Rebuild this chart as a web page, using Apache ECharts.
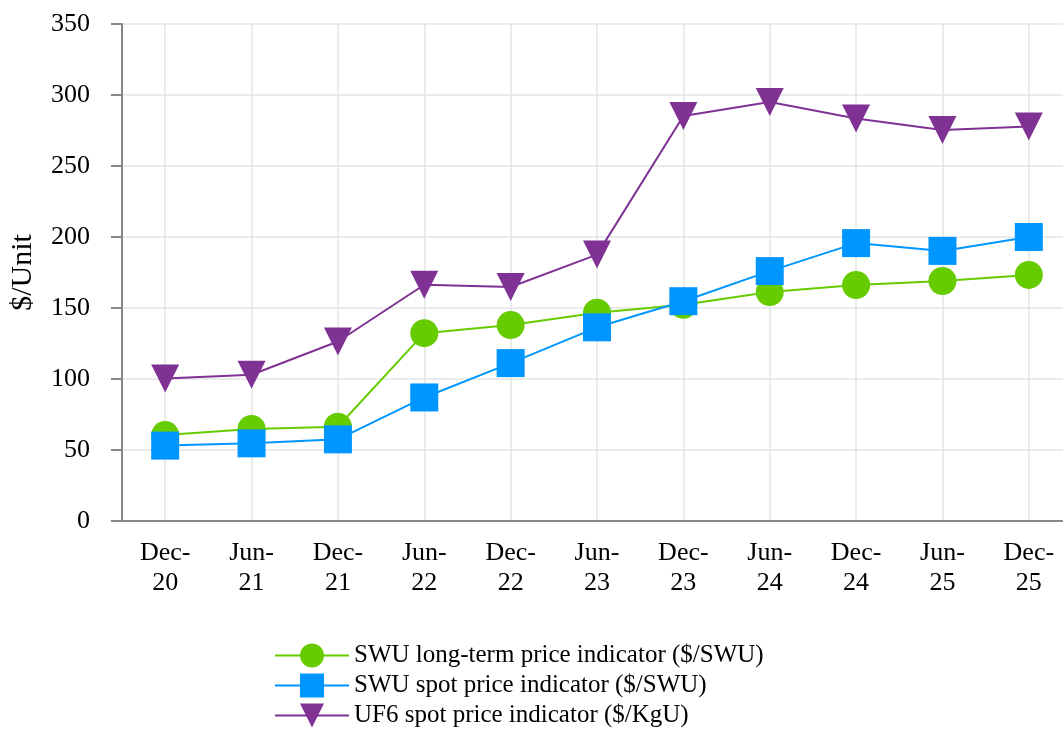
<!DOCTYPE html>
<html>
<head>
<meta charset="utf-8">
<title>SWU / UF6 price indicators</title>
<script src="https://cdn.jsdelivr.net/npm/echarts@6/dist/echarts.min.js"></script>
<style>
  html, body { margin: 0; padding: 0; background: #fff; }
  #chart { width: 1063px; height: 729px; }
</style>
</head>
<body>
<div id="chart"></div>
<script>
// 数据
const categories = ['Dec-\n20', 'Jun-\n21', 'Dec-\n21', 'Jun-\n22', 'Dec-\n22', 'Jun-\n23',
                    'Dec-\n23', 'Jun-\n24', 'Dec-\n24', 'Jun-\n25', 'Dec-\n25'];
const swuLongTerm = [60.5, 64.8, 66.4, 132.3, 138, 146.7, 152.3, 161.2, 166.2, 169, 173.3];
const swuSpot = [53.1, 54.7, 57.5, 87, 111.2, 136.4, 154.8, 176, 195.7, 190.2, 200];
const uf6Spot = [100.4, 103, 126.4, 166.4, 164.8, 187.6, 285.2, 295.1, 283.4, 275.4, 277.8];
const seriesNames = [
    'SWU long-term price indicator ($/SWU)',
    'SWU spot price indicator ($/SWU)',
    'UF6 spot price indicator ($/KgU)'
];

const font = "'Liberation Serif', 'Times New Roman', serif";
const axisColor = '#878787';
const gridColor = '#e5e5e5';

// 生成折线配置
const makeLine = (name, data, color, symbol, rotate) => ({
    name,
    type: 'line',
    data,
    symbol,
    symbolSize: 28,
    symbolRotate: rotate || 0,
    showAllSymbol: true,
    lineStyle: { color, width: 2 },
    itemStyle: { color },
    emphasis: { disabled: true },
});

const chart = echarts.init(document.getElementById('chart'), null, { renderer: 'canvas' });

chart.setOption({
    animation: false,
    textStyle: { fontFamily: font, color: '#000' },
    grid: {
        left: 122,
        top: 24,
        width: 950, // 右边超出画布
        bottom: 208,
        outerBoundsMode: 'none',
    },
    legend: {
        data: seriesNames,
        orient: 'vertical',
        left: 269,
        top: 638,
        height: 120,
        itemWidth: 74,
        itemHeight: 30,
        itemGap: 5,
        lineStyle: { width: 2 },
        textStyle: { fontFamily: font, fontSize: 25, color: '#000' },
    },
    xAxis: {
        type: 'category',
        data: categories,
        boundaryGap: true,
        axisLine: { lineStyle: { color: axisColor, width: 2 } },
        axisTick: { alignWithLabel: true, length: 11, lineStyle: { color: axisColor, width: 2 } },
        axisLabel: {
            interval: 0,
            fontFamily: font,
            fontSize: 26,
            lineHeight: 30,
            margin: 17,
            color: '#000',
        },
        splitLine: {
            show: true,
            alignWithLabel: true,
            interval: 0,
            lineStyle: { color: gridColor, width: 1.5 },
        },
    },
    yAxis: {
        type: 'value',
        min: 0,
        max: 350,
        interval: 50,
        name: '$/Unit',
        nameLocation: 'middle',
        nameGap: 84,
        nameTextStyle: { fontFamily: font, fontSize: 30, color: '#000' },
        axisLine: { show: true, lineStyle: { color: axisColor, width: 2 } },
        axisTick: { show: true, length: 11, lineStyle: { color: axisColor, width: 2 } },
        axisLabel: { fontFamily: font, fontSize: 26, margin: 32, color: '#000' },
        splitLine: { lineStyle: { color: gridColor, width: 1.5 } },
    },
    series: [
        makeLine(seriesNames[0], swuLongTerm, '#66cc00', 'circle'),
        makeLine(seriesNames[1], swuSpot, '#0096ff', 'rect'),
        makeLine(seriesNames[2], uf6Spot, '#7f3293', 'triangle', 180),
    ],
});
</script>
</body>
</html>
